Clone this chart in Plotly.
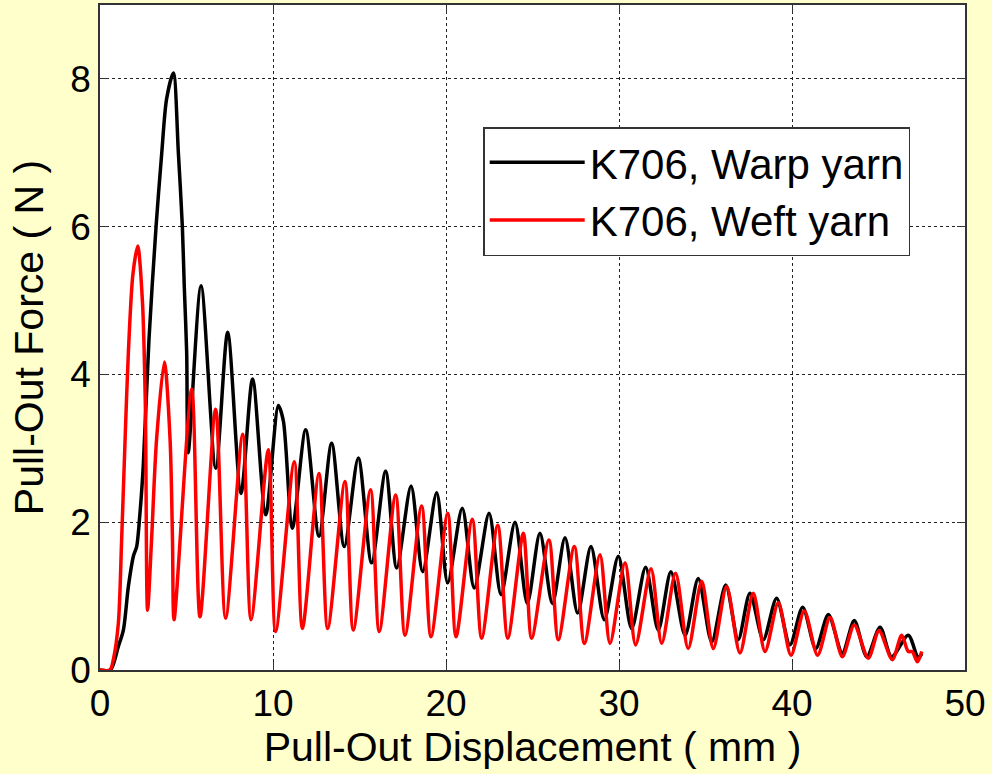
import plotly.graph_objects as go

# Warp yarn (black) - displacement (mm), force (N)
warp_x = [0, 0.6, 1.06, 1.35, 1.64, 1.93, 2.12, 2.31, 2.5, 2.83, 3.24, 3.57, 3.85, 4.24, 4.53, 4.76, 4.87, 5.01,
          5.1, 5.84, 6.69, 7.38, 8.15, 8.82, 9.58, 10.31, 10.6, 11.12, 11.89, 12.66, 13.39, 14.12, 14.93, 15.7,
          16.51, 17.15, 17.98, 18.65, 19.46, 20.1, 20.94, 21.63, 22.49, 23.18, 23.99, 24.7, 25.43, 26.15, 26.88,
          27.61, 28.38, 29.15, 29.96, 30.73, 31.54, 32.27, 33.0, 33.82, 34.58, 35.36, 36.17, 36.89, 37.57, 38.34,
          39.11, 39.88, 40.62, 41.37, 42.1, 42.91, 43.6, 44.32, 45.09, 45.76, 46.72, 47.3, 47.5]
warp_y = [0, 0.0, 0.32, 0.54, 1.13, 1.54, 1.67, 2.12, 2.76, 4.47, 6.0, 7.0, 7.73, 8.08, 7.0, 6.0, 5.2, 4.3,
          2.94, 5.2, 2.73, 4.57, 2.39, 3.94, 2.1, 3.58, 3.37, 1.92, 3.25, 1.81, 3.07, 1.67, 2.87, 1.45,
          2.69, 1.38, 2.49, 1.33, 2.4, 1.18, 2.19, 1.11, 2.12, 1.02, 2.0, 0.9, 1.85, 0.9, 1.79,
          0.77, 1.67, 0.68, 1.54, 0.56, 1.39, 0.54, 1.33, 0.47, 1.24, 0.38, 1.15, 0.41, 1.04, 0.41,
          0.97, 0.34, 0.85, 0.29, 0.75, 0.23, 0.67, 0.18, 0.58, 0.18, 0.47, 0.16, 0.22]

# Weft yarn (red)
weft_x = [0, 0.58, 0.77, 1.06, 1.25, 1.45, 1.64, 1.9, 2.18, 2.45, 2.62, 2.75, 2.98, 3.27, 3.72, 4.05, 4.19, 4.28,
          5.3, 5.78, 6.69, 7.26, 8.25, 8.73, 9.73, 10.15, 11.23, 11.7, 12.66, 13.16, 14.16, 14.64, 15.64, 16.14,
          17.09, 17.63, 18.59, 19.13, 20.1, 20.58, 21.52, 22.06, 22.99, 23.57, 24.47, 24.95, 25.95, 26.49,
          27.42, 28.0, 28.9, 29.48, 30.35, 30.96, 31.85, 32.47, 33.27, 34.0, 34.78, 35.45, 36.22, 36.99, 37.76,
          38.44, 39.21, 39.94, 40.71, 41.48, 42.2, 42.91, 43.6, 44.41, 45.03, 45.8, 46.34, 46.72, 46.95, 47.25, 47.5]
weft_y = [0, 0, 0.14, 0.63, 1.76, 3.12, 4.3, 5.35, 5.74, 5.0, 3.6, 0.81, 1.76, 3.12, 4.17, 3.12, 1.76, 0.68,
          3.8, 0.72, 3.53, 0.7, 3.19, 0.68, 2.98, 0.52, 2.82, 0.56, 2.66, 0.56, 2.55, 0.54, 2.44, 0.52,
          2.37, 0.47, 2.22, 0.45, 2.12, 0.45, 2.04, 0.43, 1.96, 0.43, 1.85, 0.43, 1.76, 0.41,
          1.67, 0.36, 1.56, 0.36, 1.45, 0.34, 1.37, 0.36, 1.31, 0.29, 1.2, 0.29, 1.13, 0.23, 1.04,
          0.25, 0.91, 0.2, 0.8, 0.2, 0.71, 0.18, 0.61, 0.16, 0.53, 0.14, 0.47, 0.25, 0.25, 0.11, 0.25]

x_ticks = [0, 10, 20, 30, 40, 50]
y_ticks = [0, 2, 4, 6, 8]

FONT = "Liberation Sans, Arial, sans-serif"

fig = go.Figure()
fig.add_trace(go.Scatter(x=warp_x, y=warp_y, mode="lines", name="K706, Warp yarn",
                         line=dict(color="black", width=3.5, shape="spline", smoothing=0.8)))
fig.add_trace(go.Scatter(x=weft_x, y=weft_y, mode="lines", name="K706, Weft yarn",
                         line=dict(color="#FF0000", width=3.5, shape="spline", smoothing=0.8)))

axis_common = dict(
    showline=True, linecolor="#333333", linewidth=1.5, mirror="ticks",
    ticks="inside", ticklen=8, tickcolor="#333333",
    showgrid=True, gridcolor="#222222", gridwidth=1, griddash="3px,3px",
    zeroline=False, automargin=False,
    tickfont=dict(family=FONT, size=37, color="black"),
)

fig.update_xaxes(range=[0, 50], tickvals=x_ticks,
                 title=dict(text="Pull-Out Displacement ( mm )", font=dict(family=FONT, size=41, color="black"),
                            standoff=6),
                 **axis_common)
fig.update_yaxes(range=[0, 9], tickvals=y_ticks,
                 title=dict(text="Pull-Out Force ( N )", font=dict(family=FONT, size=41, color="black"),
                            standoff=14),
                 **axis_common)

fig.update_layout(
    width=992, height=774,
    margin=dict(l=100, r=27, t=5, b=104),
    paper_bgcolor="#FFFFCC", plot_bgcolor="white",
    font=dict(family=FONT, color="black"),
    legend=dict(x=0.443, y=0.8165, xanchor="left", yanchor="top",
                bgcolor="white", bordercolor="#333333", borderwidth=1.5,
                font=dict(family=FONT, size=42, color="black"),
                itemwidth=95, tracegroupgap=0),
    showlegend=True,
)

fig.write_html("out.html", config={"displayModeBar": False},
               post_script="document.body.style.margin='0';")
